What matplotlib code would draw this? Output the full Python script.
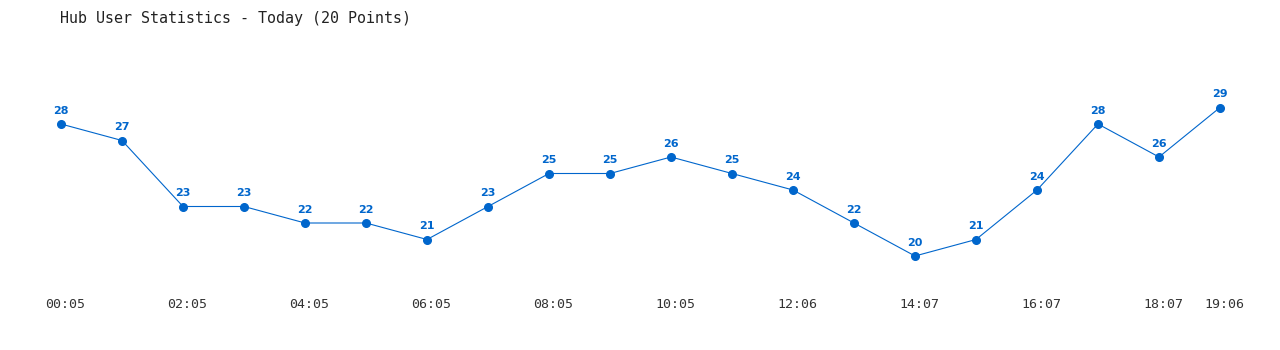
import matplotlib
matplotlib.use("Agg")
import matplotlib.pyplot as plt
from matplotlib.transforms import ScaledTranslation

values = [28, 27, 23, 23, 22, 22, 21, 23, 25, 25, 26, 25, 24, 22, 20, 21, 24, 28, 26, 29]
tick_idx = [0, 2, 4, 6, 8, 10, 12, 14, 16, 18, 19]
tick_labels = ["00:05", "02:05", "04:05", "06:05", "08:05", "10:05", "12:06",
               "14:07", "16:07", "18:07", "19:06"]
title = "Hub User Statistics - Today (20 Points)"

W, H = 1280, 350
fig = plt.figure(figsize=(W / 100, H / 100), dpi=100)
x0, x1 = 61, 1220
ytop, ybot = 60, 290
ax = fig.add_axes([x0 / W, 1 - ybot / H, (x1 - x0) / W, (ybot - ytop) / H])
ppu = (256 - 124) / 8.0
ax.set_xlim(0, len(values) - 1)
ax.set_ylim(20 - (ybot - 256) / ppu, 28 + (124 - ytop) / ppu)

color = "#0066CC"
xs = list(range(len(values)))
ax.plot(xs, values, color=color, lw=0.8, marker="o", ms=5.5, clip_on=False, zorder=3)
for x, v in zip(xs, values):
    ax.annotate(str(v), (x, v), xytext=(0, 9.5), textcoords="offset points",
                ha="center", va="center", fontsize=8, fontweight="bold",
                color=color, family="DejaVu Sans")

for s in ax.spines.values():
    s.set_visible(False)
ax.set_yticks([])
ax.set_xticks(tick_idx)
ax.set_xticklabels(tick_labels, family="DejaVu Sans Mono", fontsize=9.5, color="#333333")
ax.tick_params(axis="x", length=0, pad=6)
off = ScaledTranslation(4 / 100, 0, fig.dpi_scale_trans)
for lab in ax.get_xticklabels():
    lab.set_transform(lab.get_transform() + off)

fig.text(60 / W, 1 - 18 / H, title, family="DejaVu Sans Mono", fontsize=10.8,
         color="#222222", ha="left", va="center")

fig.savefig("out.png", dpi=100, facecolor="white")
